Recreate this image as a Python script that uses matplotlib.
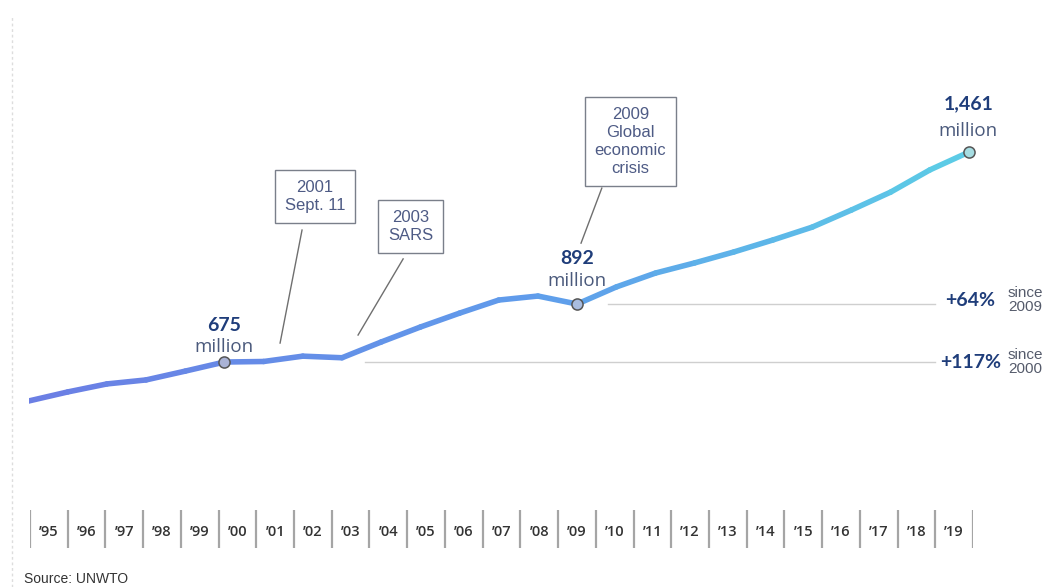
import matplotlib
matplotlib.use("Agg")
import matplotlib.pyplot as plt
import numpy as np
from matplotlib.collections import LineCollection
from matplotlib.colors import LinearSegmentedColormap
from matplotlib.lines import Line2D

# ---- data ----
years = list(range(1995, 2020))
arrivals = [529, 563, 593, 608, 641, 675, 677, 697, 691, 750, 806, 858, 907,
            922, 892, 956, 1008, 1046, 1087, 1132, 1180, 1244, 1311, 1394, 1461]
tick_labels = ["\u201995", "\u201996", "\u201997", "\u201998", "\u201999",
               "\u201900", "\u201901", "\u201902", "\u201903", "\u201904",
               "\u201905", "\u201906", "\u201907", "\u201908", "\u201909",
               "\u201910", "\u201911", "\u201912", "\u201913", "\u201914",
               "\u201915", "\u201916", "\u201917", "\u201918", "\u201919"]
highlight_years = [2000, 2009, 2019]
highlight_values = [675, 892, 1461]
highlight_labels = ["675", "892", "1,461"]
events = [("2001\nSept. 11", 2001), ("2003\nSARS", 2003),
          ("2009\nGlobal\neconomic\ncrisis", 2009)]
growth_labels = ["+64%", "+117%"]
growth_since = ["since\n2009", "since\n2000"]
growth_base_years = [2009, 2000]
growth_base_values = [892, 675]

W, H = 1046, 587
fig = plt.figure(figsize=(W / 100, H / 100), dpi=100)
fig.patch.set_facecolor("white")

navy = "#1f3d7a"
grey_txt = "#4b5a7c"
box_txt = "#4e5b85"

# main axes (pixel-calibrated)
ax = fig.add_axes([28.5 / W, 1 - 435.5 / H, 940.5 / W, 320.6 / H])
ax.set_xlim(1995, 2019)
ax.set_ylim(400, 1600)
ax.axis("off")

x = np.array(years, dtype=float)
y = np.array(arrivals, dtype=float)
pts = np.column_stack([x, y]).reshape(-1, 1, 2)
segs = np.concatenate([pts[:-1], pts[1:]], axis=1)
cmap = LinearSegmentedColormap.from_list(
    "g", [(0, "#6b7fe4"), (0.55, "#5f9deb"), (1, "#5ccbe6")])
cols = cmap(np.linspace(0, 1, len(segs)))
lc = LineCollection(segs, colors=cols, linewidths=4.0, capstyle="round",
                    joinstyle="round", zorder=3)
ax.add_collection(lc)

# reference lines
for bv, by in zip(growth_base_values, growth_base_years):
    x0 = by + (0.8 if by == 2009 else 3.59)
    ax.plot([x0, 2018.13], [bv, bv], color="#cfcfcf", lw=1.0, zorder=1,
            clip_on=False)

# markers
face = ["#aab3d6", "#a9bde0", "#a6dde2"]
for yr, v, fc in zip(highlight_years, highlight_values, face):
    ax.plot(yr, v, "o", ms=8, mfc=fc, mec="#555555", mew=1.1, zorder=5,
            clip_on=False)

# highlight labels
lab_pos = [(2000.0, 810, 731), (2009.0, 1064, 978), (2018.98, 1641, 1540)]
for (xx, yb, ym), t in zip(lab_pos, highlight_labels):
    ax.text(xx, yb, t, ha="center", va="center", fontsize=14,
            fontweight="bold", color=navy, family="Lato", clip_on=False)
    ax.text(xx, ym, "million", ha="center", va="center", fontsize=13.5,
            color=grey_txt, family="Open Sans", clip_on=False)

# event boxes and leader lines
box_pos = [(2002.31, 1293), (2004.75, 1182), (2010.36, 1500)]
leaders = [((2001.98, 1169), (2001.42, 746)),
           ((2004.56, 1061), (2003.41, 776)),
           ((2009.63, 1326), (2009.10, 1120))]
for (txt, yr), (bx, bv), ((lx0, ly0), (lx1, ly1)) in zip(events, box_pos, leaders):
    ax.text(bx, bv, txt, ha="center", va="center", fontsize=12,
            color=box_txt, family="Liberation Sans", linespacing=1.25,
            bbox=dict(boxstyle="square,pad=0.6", fc="white", ec="#7a7f8a",
                      lw=1.0), zorder=6, clip_on=False)
    ax.plot([lx0, lx1], [ly0, ly1], color="#6f6f6f", lw=1.0, zorder=2,
            clip_on=False)

# growth labels
for g, s, yv in zip(growth_labels, growth_since, [907, 675]):
    ax.text(2019.03, yv, g, ha="center", va="center", fontsize=14,
            fontweight="bold", color=navy, family="Lato", clip_on=False)
    ax.text(2019.99, yv, s, ha="left", va="center", fontsize=11,
            color="#555b6b", family="Liberation Sans", linespacing=1.0,
            clip_on=False)

# bottom year row
bx_ax = fig.add_axes([30 / W, 1 - 548 / H, 943 / W, 38 / H])
bx_ax.set_xlim(0, len(tick_labels))
bx_ax.set_ylim(0, 1)
bx_ax.axis("off")
bx_ax.vlines(np.arange(len(tick_labels) + 1), 0, 1, color="#a5a5a5", lw=1.6)
for i, t in enumerate(tick_labels):
    bx_ax.text(i + 0.5, 0.42, t, ha="center", va="center", fontsize=10.5,
               color="#333333", family="Open Sans", fontweight="semibold")

# left dotted border
fig.add_artist(Line2D([12 / W, 12 / W], [0, 1 - 15 / H], color="#dddddd",
                      lw=1.0, linestyle=(0, (2, 2))))

fig.text(24 / W, 1 - 579 / H, "Source: UNWTO", ha="left", va="center",
         fontsize=10, color="#333333", family="Liberation Sans")

fig.savefig("out.png", dpi=100, facecolor="white")
